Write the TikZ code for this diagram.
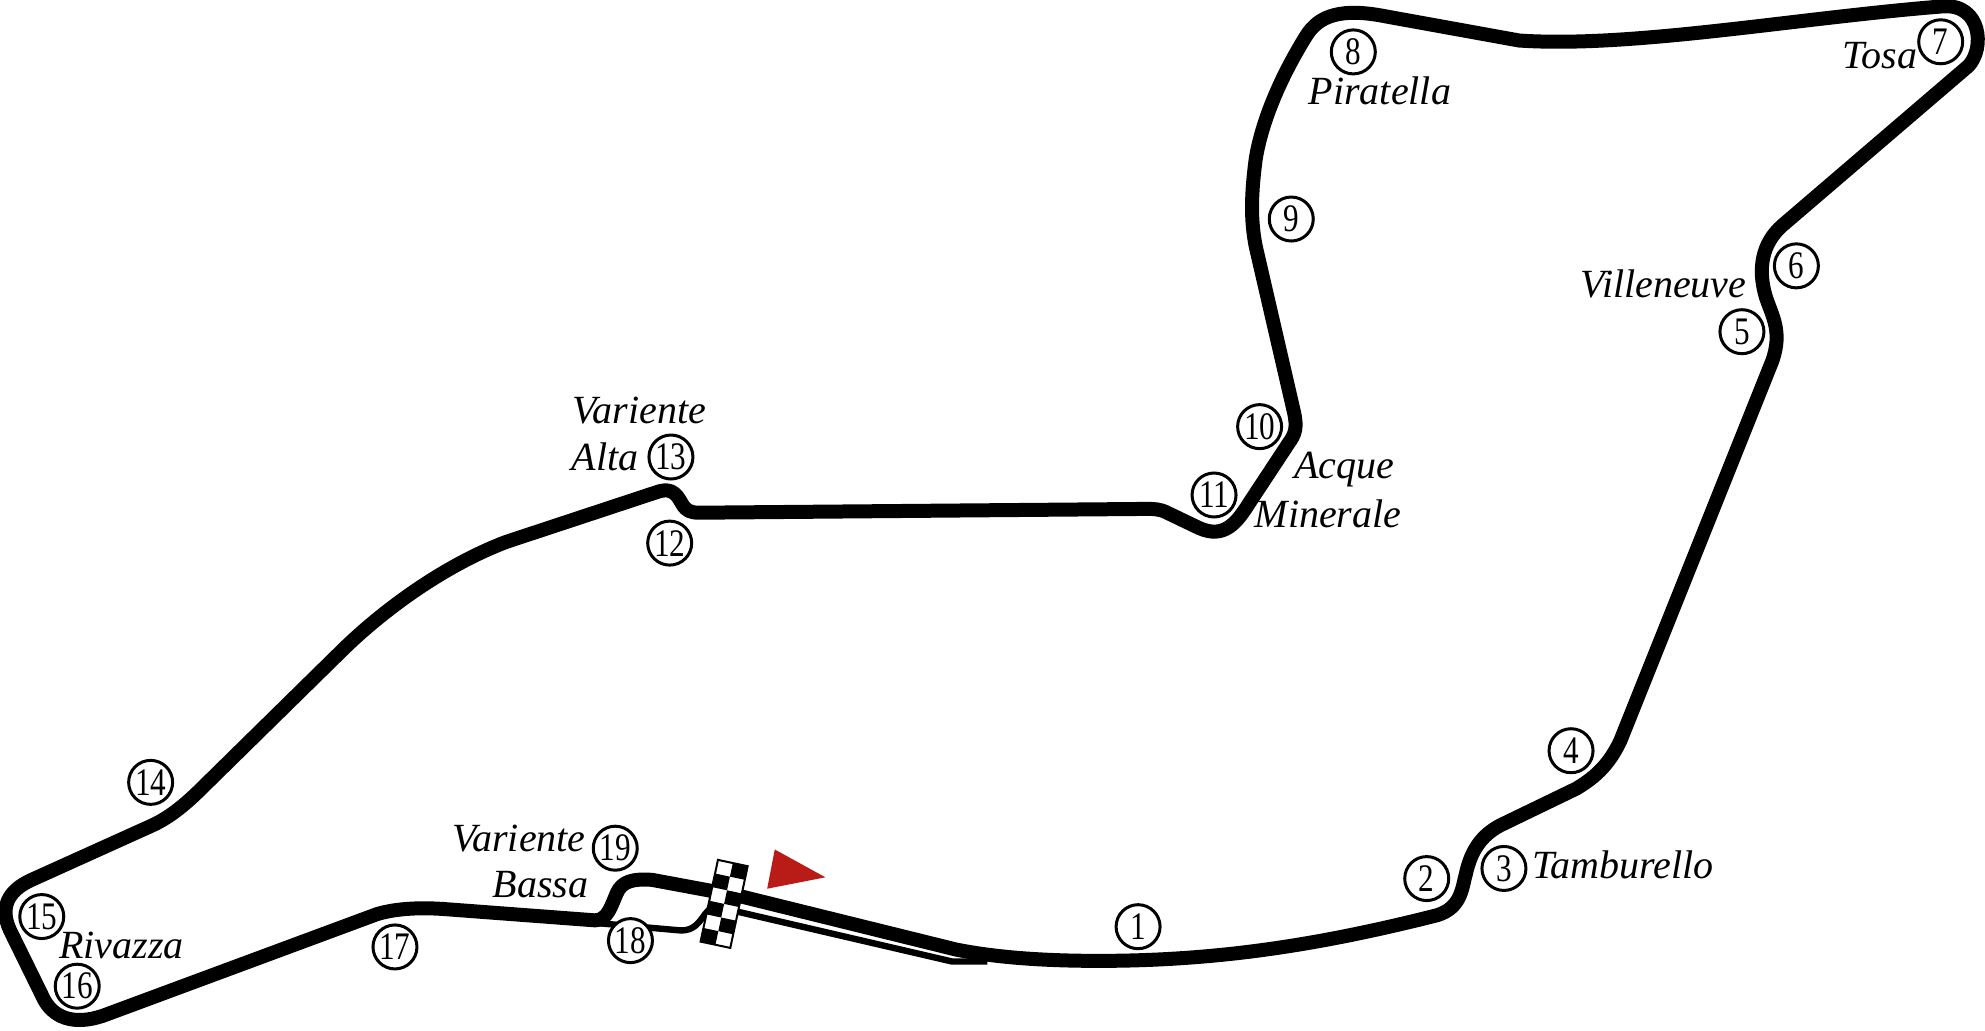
\documentclass[tikz,border=0pt]{standalone}
\usepackage{fontspec}
\setmainfont{Liberation Serif}
\newfontfamily\turnfont[FakeStretch=0.8]{Liberation Serif}

\definecolor{startred}{HTML}{B91B17}

\tikzset{
  track/.style={line width=7pt, line join=round, line cap=round},
  pitlane/.style={line width=3.2pt, line join=round},
  turn/.style={circle, draw, line width=1.5pt, fill=white, inner sep=0pt, minimum size=22pt, font=\turnfont\fontsize{19.5}{19.5}\selectfont},
  corner/.style={inner sep=0pt, font=\itshape\fontsize{20}{20}\selectfont}
}

\begin{document}
\begin{tikzpicture}[x=0.633pt, y=-0.633pt]

\useasboundingbox (0,0) rectangle (1568,814.4);

% pit lane
\draw[pitlane] (470,729) -- (538,735) .. controls (548,735) and (552,729) .. (557,722) -- (566,712);
\draw[pitlane] (582,720) -- (752,759.5) -- (780,759.5);

% circuit
\draw[track] (585,708) -- (755,750)
  .. controls (790,757) and (830,759) .. (868,759)
  .. controls (960,759) and (1040,747) .. (1135,723)
  .. controls (1155,717) and (1155,700) .. (1158,690)
  .. controls (1162,672) and (1170,660) .. (1185,652)
  -- (1245,623)
  .. controls (1262,613) and (1272,602) .. (1280,585)
  -- (1400,285)
  .. controls (1408,262) and (1400,250) .. (1395,235)
  .. controls (1388,212) and (1392,192) .. (1408,178)
  -- (1555,52)
  .. controls (1568,38) and (1565,3) .. (1535,5)
  .. controls (1420,14) and (1290,38) .. (1200,32)
  -- (1095,13)
  .. controls (1060,6) and (1042,12) .. (1032,28)
  .. controls (1012,60) and (997,95) .. (992,125)
  .. controls (988,155) and (988,175) .. (992,195)
  -- (1022,325)
  .. controls (1025,338) and (1023,343) .. (1018,350)
  -- (987,397)
  .. controls (977,413) and (967,426) .. (947,417)
  -- (922,405)
  .. controls (916,402) and (912,402) .. (905,402)
  -- (552,405)
  .. controls (538,405) and (540,396) .. (533,390)
  .. controls (528,386) and (524,387) .. (518,389)
  -- (400,428)
  .. controls (350,447) and (303,482) .. (272,512)
  -- (160,622)
  .. controls (145,637) and (132,647) .. (118,653)
  -- (25,695)
  .. controls (5,704) and (0,718) .. (8,735)
  -- (35,790)
  .. controls (44,806) and (62,810) .. (85,801)
  -- (298,722)
  .. controls (315,717) and (335,717) .. (350,718)
  -- (470,727)
  .. controls (480,727) and (483,715) .. (487,706)
  .. controls (491,696) and (500,694) .. (515,695)
  -- (585,708);

% start line
\begin{scope}[shift={(572,714)}, rotate=-12]
\draw[fill=white, line width=1pt] (-12,-33) rectangle (12,33);
\foreach \row in {0,2,4}{
  \fill (0,-33+11*\row) rectangle (12,-22+11*\row);
  \fill (-12,-22+11*\row) rectangle (0,-11+11*\row);
}
\end{scope}

\fill[startred] (612,671) -- (652,693) -- (606,702) -- cycle;

\node[turn] at (899,732) (t1){1};
\node[turn] at (1127,694) (t2){2};
\node[turn] at (1188,686) (t3){3};
\node[turn] at (1241,593) (t4){4};
\node[turn] at (1376,262) (t5){5};
\node[turn] at (1419,210) (t6){6};
\node[turn] at (1533,33) (t7){7};
\node[turn] at (1069,41) (t8){8};
\node[turn] at (1020,173) (t9){9};
\node[turn] at (995,337) (t10){10};
\node[turn] at (959,391) (t11){11};
\node[turn] at (529,429) (t12){12};
\node[turn] at (530,361) (t13){13};
\node[turn] at (119,618) (t14){14};
\node[turn] at (33,724) (t15){15};
\node[turn] at (61,779) (t16){16};
\node[turn] at (312,748) (t17){17};
\node[turn] at (498,743) (t18){18};
\node[turn] at (486,670) (t19){19};

\node[corner] at (1485,44) (tosa){Tosa};
\node[corner] at (1090,72) (piratella){Piratella};
\node[corner] at (1314,224) (villeneuve){Villeneuve};
\node[corner] at (1282,683) (tamburello){Tamburello};
\node[corner] at (96,747) (rivazza){Rivazza};
\node[corner] at (1062,371) (acque){Acque};
\node[corner] at (1049,406) (minerale){Minerale};
\node[corner] at (505,324) (altaa){Variente};
\node[corner] at (478,361) (altab){Alta};
\node[corner] at (410,662) (bassaa){Variente};
\node[corner] at (427,699) (bassab){Bassa};

\end{tikzpicture}
\end{document}
